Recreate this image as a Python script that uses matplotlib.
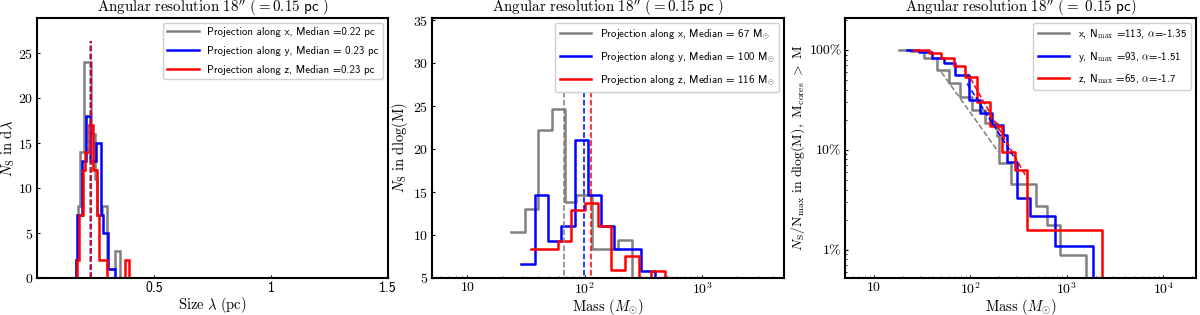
import numpy as np
import matplotlib
matplotlib.use('Agg')
import matplotlib.pyplot as plt
from matplotlib.lines import Line2D
from matplotlib.ticker import FixedLocator, FuncFormatter, NullFormatter

plt.rcParams['mathtext.fontset'] = 'cm'
plt.rcParams['font.family'] = ['cmr10']
plt.rcParams['axes.formatter.use_mathtext'] = True

colors = ['#808080', 'blue', 'red']

# Panel 1: size histograms (bin edges in pc, counts)
size_edges_x = [0.167, 0.175, 0.184, 0.201, 0.231, 0.248, 0.255, 0.276, 0.298, 0.31, 0.333, 0.355]
size_counts_x = [2, 8, 14, 24, 16, 11, 7, 8, 1, 1, 3]
size_edges_y = [0.165, 0.172, 0.191, 0.208, 0.226, 0.252, 0.272, 0.281, 0.302, 0.333]
size_counts_y = [2, 7, 13, 18, 13, 15, 7, 5, 1]
size_edges_z = [0.170, 0.179, 0.196, 0.205, 0.222, 0.241, 0.255, 0.264, 0.30, 0.376, 0.393]
size_counts_z = [2, 7, 12, 14, 17, 12, 7, 2, 0, 2]
size_median = [0.226, 0.232, 0.233]
size_labels = ['Projection along x, Median =0.22 pc',
               'Projection along y, Median = 0.23 pc',
               'Projection along z, Median =0.23 pc']

# Panel 2: mass histograms (bin edges in Msun, counts)
mass_edges_x = [23.8, 30.8, 40.1, 53.1, 67.6, 85.0, 116, 192, 253]
mass_counts_x = [10.3, 13.0, 22.2, 24.6, 13.8, 14.7, 8.4, 9.4]
mass_edges_y = [28.9, 37.5, 48.7, 63.4, 82.2, 106.7, 138.7, 177.4, 304, 394.5]
mass_counts_y = [6.65, 14.7, 9.3, 11.1, 21.0, 14.7, 11.1, 8.4, 5.8]
mass_edges_z = [35.2, 59.3, 77.1, 100, 129.8, 168.7, 218.9, 289.7, 369.8, 488.6]
mass_counts_z = [8.4, 9.3, 12.95, 13.7, 11.1, 5.9, 7.5, 0, 5.8]
mass_median = [66.7, 98.6, 114]
mass_labels = [r'Projection along x, Median = 67 M$_{\odot}$',
               r'Projection along y, Median = 100 M$_{\odot}$',
               r'Projection along z, Median = 116 M$_{\odot}$']

# Panel 3: cumulative mass functions (mass, fraction above)
cum_m_x = [18.3, 23.9, 32.9, 44.5, 59.7, 78.8, 104.2, 142.9, 188.7, 198.0, 263.6, 481.5, 630.4, 852.5, 1573]
cum_f_x = [1.0, 0.977, 0.837, 0.631, 0.464, 0.341, 0.251, 0.185, 0.136, 0.0736, 0.0454, 0.0271, 0.0178, 0.0089, 0.001]
cum_m_y = [22.1, 29.2, 40.1, 52.9, 69.9, 96.0, 126.7, 167.4, 220.6, 239.1, 303.8, 417.2, 756.3, 1857]
cum_f_y = [1.0, 0.962, 0.826, 0.736, 0.562, 0.316, 0.236, 0.178, 0.141, 0.0761, 0.0327, 0.0219, 0.0108, 0.001]
cum_m_z = [25.9, 37.1, 49.0, 67.3, 88.8, 117.2, 158.1, 212.6, 291.7, 385.4, 2301]
cum_f_z = [1.0, 0.940, 0.826, 0.692, 0.541, 0.304, 0.174, 0.094, 0.063, 0.0156, 0.001]
# power-law fits: mass range, fraction at start, slope
fit_m0 = [50, 92.5, 100]
fit_m1 = [195, 280, 385]
fit_f0 = [0.6, 0.46, 0.52]
fit_alpha = [-1.35, -1.51, -1.7]
cum_labels = [r'x, N$_{\rm max}$ =113, $\alpha$=-1.35',
              r'y, N$_{\rm max}$ =93, $\alpha$=-1.51',
              r'z, N$_{\rm max}$ =65, $\alpha$=-1.7']

fig = plt.figure(figsize=(12, 3.15), dpi=100)
ax1 = fig.add_axes([0.0308, 0.1175, 0.2925, 0.8254])
ax2 = fig.add_axes([0.36, 0.1175, 0.2933, 0.8254])
ax3 = fig.add_axes([0.7042, 0.1175, 0.2925, 0.8254])

sans = ['cmss10', 'DejaVu Sans']
leg_kw = dict(loc='upper right', prop={'family': sans, 'size': 7.8},
              handlelength=2.9, borderaxespad=0.45, labelspacing=0.8,
              fancybox=True, edgecolor='#d0d0d0', framealpha=1)


def title(ax, tail):
    ax.set_title(r'$\mathrm{Angular\ resolution\ 18^{\prime\prime}\ }\mathsf{' + tail + '}$',
                 fontsize=10.8, pad=1.5)


def style(ax):
    for s in ax.spines.values():
        s.set_linewidth(1.5)
    ax.tick_params(which='both', direction='in', length=2, labelsize=10, pad=2.5)
    ax.tick_params(which='minor', length=1.5)


# ---- Panel 1
for e, c, col in zip([size_edges_x, size_edges_y, size_edges_z],
                     [size_counts_x, size_counts_y, size_counts_z], colors):
    ax1.stairs(c, e, color=col, lw=1.8, baseline=0)
for m, col in zip(size_median, colors):
    ax1.vlines(m, 0, 26.3, colors=col, linestyles='dashed', lw=1.1)
ax1.set_xlim(0, 1.5)
ax1.set_ylim(0, 28.9)
ax1.set_xticks([0.5, 1, 1.5])
ax1.set_xticklabels(['0.5', '1', '1.5'], family=sans, fontsize=10)
ax1.set_yticks([0, 5, 10, 15, 20, 25])
ax1.set_xlabel(r'$\mathrm{Size}\ \lambda\ \mathrm{(pc)}$', fontsize=10.5, labelpad=0)
ax1.set_ylabel(r'$N_{\rm S}\ \mathrm{in\ d}\lambda$', fontsize=10.5, labelpad=1)
style(ax1)
title(ax1, r'({=}0.15\ pc\ )')
ax1.legend([Line2D([], [], color=c, lw=1.8) for c in colors], size_labels, **leg_kw)


def logfmt(v, pos):
    n = int(round(np.log10(v)))
    return '10' if n == 1 else r'$10^{%d}$' % n


# ---- Panel 2
for e, c, col, lab in zip([mass_edges_x, mass_edges_y, mass_edges_z],
                          [mass_counts_x, mass_counts_y, mass_counts_z], colors, mass_labels):
    ax2.step(e, list(c) + [0], where='post', color=col, lw=1.8, label=lab)
for m, col in zip(mass_median, colors):
    ax2.vlines(m, 0, 26.7, colors=col, linestyles='dashed', lw=1.1)
ax2.set_xscale('log')
ax2.set_xlim(5, 5000)
ax2.set_ylim(5.06, 35.24)
ax2.set_yticks([5, 10, 15, 20, 25, 30, 35])
ax2.xaxis.set_major_locator(FixedLocator([10, 100, 1000]))
ax2.xaxis.set_major_formatter(FuncFormatter(logfmt))
ax2.xaxis.set_minor_formatter(NullFormatter())
ax2.set_xlabel(r'$\mathrm{Mass}\ (M_{\odot})$', fontsize=10.5, labelpad=0)
ax2.set_ylabel(r'$N_{\rm S}\ \mathrm{in\ dlog(M)}$', fontsize=10.5, labelpad=2)
style(ax2)
title(ax2, r'({=}0.15\ pc\ )')
ax2.legend(**leg_kw)

# ---- Panel 3
for m, f, col, lab in zip([cum_m_x, cum_m_y, cum_m_z], [cum_f_x, cum_f_y, cum_f_z],
                          colors, cum_labels):
    ax3.step(m, f, where='post', color=col, lw=1.8, label=lab)
for m0, m1, f0, a, col in zip(fit_m0, fit_m1, fit_f0, fit_alpha, colors):
    mm = np.array([m0, m1])
    ax3.plot(mm, f0 * (mm / m0) ** a, color=col, ls='--', lw=1.1)
ax3.set_xscale('log')
ax3.set_yscale('log')
ax3.set_xlim(5, 22000)
ax3.set_ylim(0.0052, 2.09)
ax3.xaxis.set_major_locator(FixedLocator([10, 100, 1000, 10000]))
ax3.xaxis.set_major_formatter(FuncFormatter(logfmt))
ax3.xaxis.set_minor_formatter(NullFormatter())
ax3.yaxis.set_major_locator(FixedLocator([0.01, 0.1, 1]))
ax3.yaxis.set_major_formatter(FuncFormatter(lambda v, p: {0.01: '1%', 0.1: '10%', 1: '100%'}.get(round(v, 2), '')))
ax3.yaxis.set_minor_formatter(NullFormatter())
ax3.set_xlabel(r'$\mathrm{Mass}\ (M_{\odot})$', fontsize=10.5, labelpad=0)
ax3.set_ylabel(r'$N_{\rm S}/\mathrm{N}_{\rm max}\ \mathrm{in\ dlog(M),\ M_{cores}\ >\ M}$',
               fontsize=10, labelpad=2)
style(ax3)
title(ax3, r'({=}\ 0.15\ pc)')
ax3.legend(**leg_kw)

fig.savefig('out.png', dpi=100)
